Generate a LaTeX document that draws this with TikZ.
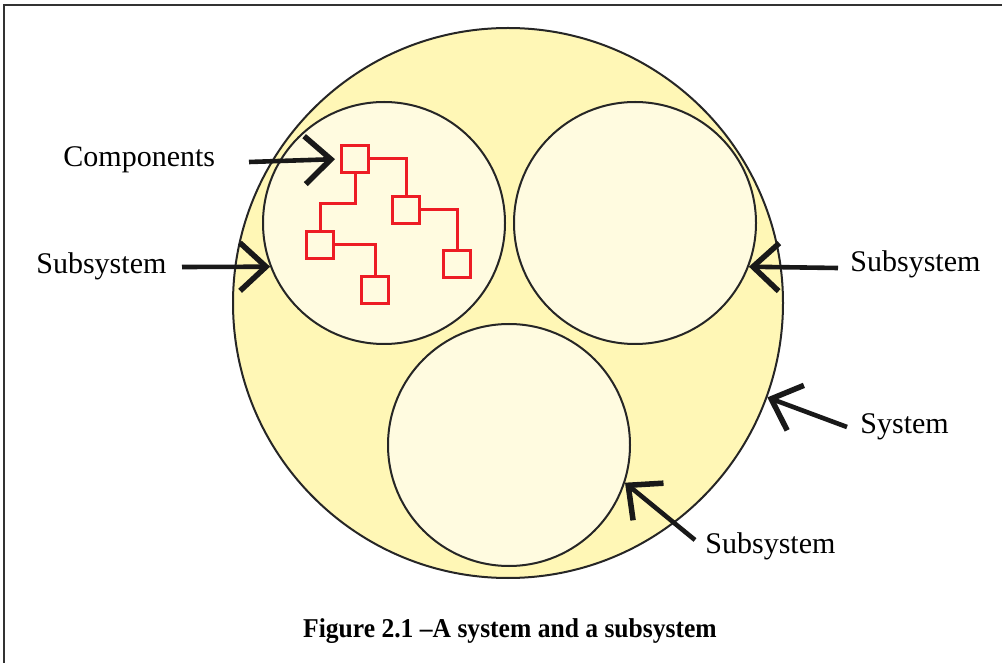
\documentclass[tikz,border=0pt]{standalone}
\usepackage{fontspec}
\setmainfont{Liberation Serif}
\newfontfamily\capfont[FakeStretch=0.94]{Liberation Serif}
\usepackage{xcolor}
\usepackage{tikz}
\usetikzlibrary{arrows.meta,positioning}
\definecolor{sysfill}{RGB}{255,247,182}
\definecolor{subfill}{RGB}{255,251,224}
\definecolor{compred}{RGB}{237,28,36}
\definecolor{frameline}{RGB}{50,50,50}
\tikzset{
    sysbox/.style={circle, draw=black!85, line width=1pt, fill=sysfill,
    minimum size=275pt, inner sep=0pt},
    subbox/.style={circle, draw=black!85, line width=1pt, fill=subfill,
    minimum size=121pt, inner sep=0pt},
    compbox/.style={draw=compred, line width=1.5pt, fill=subfill,
    minimum size=13.5pt, inner sep=0pt},
    complink/.style={draw=compred, line width=1.5pt},
    pointer/.style={->, line width=2.3pt, black!90},
    lbl/.style={font=\fontsize{15}{18}\selectfont, anchor=base west, inner sep=0pt},
}

\begin{document}
\begin{tikzpicture}[
            x=0.5pt, y=-0.5pt,
            >={Straight Barb[length=13pt,width=24pt,line width=0pt 1.2]}
        ]
            \useasboundingbox (0,0) rectangle (1002,663);
            % frame
            \draw[frameline, line width=1pt] (4,663) -- (4,5) -- (1002,5);
            % system and subsystems
            \node[sysbox] (sys) at (508,303) {};
            \node[subbox] (sub1) at (384,223) {};
            \node[subbox] (sub2) at (635,223) {};
            \node[subbox] (sub3) at (509,445) {};
            % components
            \node[compbox] (c1) at (355,159) {};
            \node[compbox] (c2) at (406,210) {};
            \node[compbox] (c3) at (320,245) {};
            \node[compbox] (c4) at (457,264) {};
            \node[compbox] (c5) at (375,290) {};
            \draw[complink] (c1.east) -| (c2.north);
            \draw[complink] (c1.south) -- ++(0,30) -| (c3.north);
            \draw[complink] (c2.east) -| (c4.north);
            \draw[complink] (c3.east) -| (c5.north);
            % labels
            \node[lbl] (lcomp) at (63,167) {Components};
            \node[lbl] (lsub1) at (36,274) {Subsystem};
            \node[lbl] (lsub2) at (850,272) {Subsystem};
            \node[lbl] (lsys) at (860,433) {System};
            \node[lbl] (lsub3) at (705,553) {Subsystem};
            \node[font=\capfont\bfseries\fontsize{13.6}{16}\selectfont, anchor=base, inner sep=0pt]
                (cap) at (510,637) {Figure 2.1 –A system and a subsystem};
            % arrows
            \coordinate (pcomp) at (249,162);
            \coordinate (psub1) at (182,267);
            \coordinate (psub2) at (838,268);
            \coordinate (psys) at (847,427);
            \coordinate (psub3) at (695,540);
            \draw[pointer, shorten >=2.5pt] (pcomp) -- (c1.west);
            \draw[pointer] (psub1) -- (sub1.201);
            \draw[pointer] (psub2) -- (sub2.-21);
            \draw[pointer] (psys) -- (sys.-20);
            \draw[pointer] (psub3) -- (sub3.-18);
        \end{tikzpicture}
\end{document}
